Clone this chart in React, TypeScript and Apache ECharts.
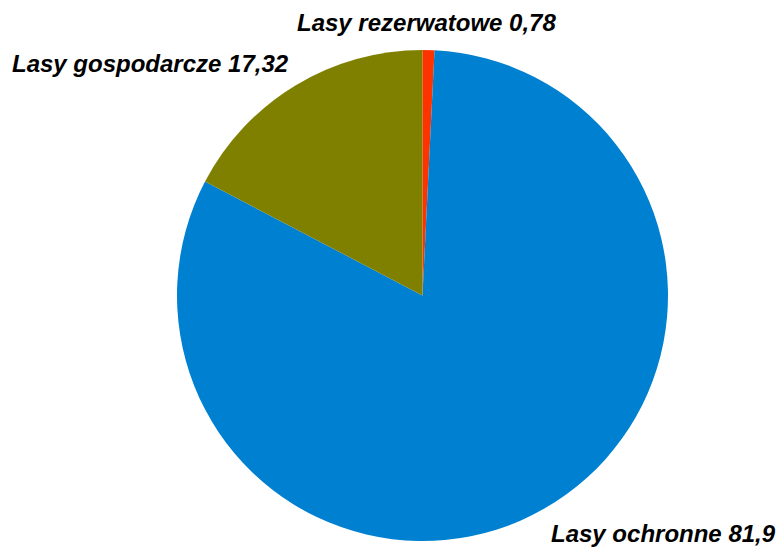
import React, { useEffect, useRef } from "react";
import * as echarts from "echarts";

const categories = ["Lasy rezerwatowe", "Lasy ochronne", "Lasy gospodarcze"];
const values = [0.78, 81.9, 17.32];
const colors = ["#FF3300", "#0080D0", "#808000"];
// label anchor (left, middle) positions in px
const labelPos: [number, number][] = [
  [297, 22],
  [551, 533],
  [12, 63],
];

export default function App() {
  const ref = useRef<HTMLDivElement>(null);
  useEffect(() => {
    if (!ref.current) return;
    const chart = echarts.init(ref.current, null, { renderer: "svg" });
    chart.setOption({
      animation: false,
      backgroundColor: "#ffffff",
      series: [
        {
          type: "pie",
          center: [422.5, 295.5],
          radius: 245.5,
          startAngle: 90,
          clockwise: true,
          avoidLabelOverlap: false,
          itemStyle: { borderWidth: 0 },
          label: {
            show: true,
            position: "outside",
            formatter: (p: any) => `${p.name} ${String(p.value).replace(".", ",")}`,
            fontFamily: "Liberation Sans, Arial, sans-serif",
            fontWeight: "bold",
            fontStyle: "italic",
            fontSize: 24,
            color: "#000000",
          },
          labelLine: { show: false },
          labelLayout: (params: any) => {
            const pos = labelPos[params.dataIndex];
            return { x: pos[0], y: pos[1], align: "left", verticalAlign: "middle" };
          },
          emphasis: { disabled: true },
          data: categories.map((c, i) => ({
            name: c,
            value: values[i],
            itemStyle: { color: colors[i] },
          })),
        },
      ],
    });
    return () => chart.dispose();
  }, []);
  return (
    <div
      ref={ref}
      style={{ position: "fixed", left: 0, top: 0, width: 776, height: 547 }}
    />
  );
}
